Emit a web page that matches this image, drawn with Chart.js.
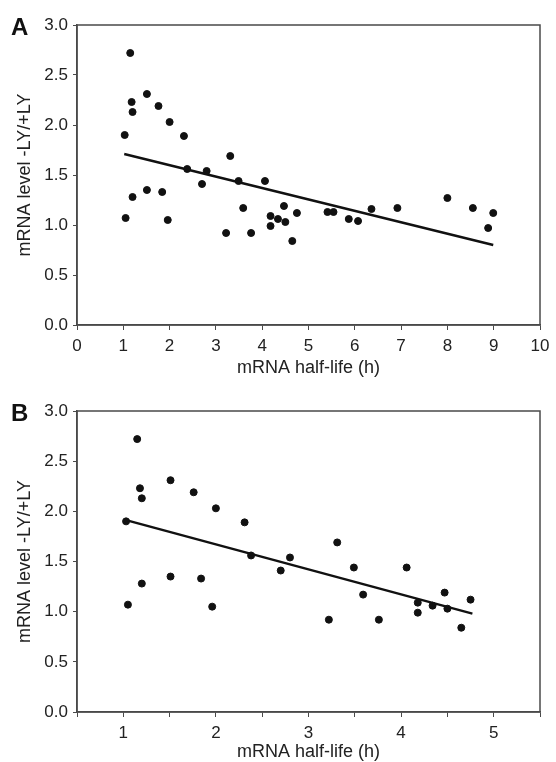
<!DOCTYPE html>
<html>
<head>
<meta charset="utf-8">
<script src="https://cdn.jsdelivr.net/npm/chart.js@4.4.1/dist/chart.umd.min.js"></script>
<style>
  body { margin: 0; background: #fff; }
  #wrap { position: relative; width: 556px; height: 762px; overflow: hidden; }
  canvas { position: absolute; left: 0; }
  .panel { position: absolute; left: 11px; font: bold 24px "Liberation Sans", Arial, sans-serif; line-height: 24px; color: #111; }
</style>
</head>
<body>
<div id="wrap">
  <canvas id="chartA" width="556" height="386" style="top:0"></canvas>
  <canvas id="chartB" width="556" height="380" style="top:386px"></canvas>
  <div class="panel" style="top:15px">A</div>
  <div class="panel" style="top:401px">B</div>
</div>
<script>
// mRNA half-life (h) and mRNA level ratio
const halfLife = [1.15, 1.51, 1.18, 1.76, 1.20, 2.00, 1.03, 2.31, 3.31, 2.38,
  2.80, 3.49, 2.70, 1.51, 1.84, 1.20, 3.59, 1.05, 1.96, 3.22,
  3.76, 4.06, 4.47, 4.18, 4.34, 4.18, 4.50, 4.75, 4.65, 5.41,
  5.54, 5.87, 6.07, 6.36, 6.92, 8.00, 8.55, 8.99, 8.88];
const mrnaLevel = [2.72, 2.31, 2.23, 2.19, 2.13, 2.03, 1.90, 1.89, 1.69, 1.56,
  1.54, 1.44, 1.41, 1.35, 1.33, 1.28, 1.17, 1.07, 1.05, 0.92,
  0.92, 1.44, 1.19, 1.09, 1.06, 0.99, 1.03, 1.12, 0.84, 1.13,
  1.13, 1.06, 1.04, 1.16, 1.17, 1.27, 1.17, 1.12, 0.97];

// regression line end points (panel A: all genes, panel B: half-life < 5 h)
const fitAx = [1.02, 8.99];
const fitAy = [1.71, 0.80];
const fitBx = [1.04, 4.77];
const fitBy = [1.91, 0.98];

const yTicks = [0, 0.5, 1, 1.5, 2, 2.5, 3];

const fontName = "'Liberation Sans', Arial, sans-serif";
const axisColor = "#4a4a4a";
const textColor = "#222";

const allPoints = halfLife.map((x, i) => ({ x: x, y: mrnaLevel[i] }));
const shortPoints = allPoints.filter(p => p.x < 5);

// draws the box around the plot area
const frame = {
  id: "frame",
  afterDraw(chart) {
    const a = chart.chartArea;
    const ctx = chart.ctx;
    ctx.save();
    ctx.strokeStyle = axisColor;
    ctx.lineWidth = 1.5;
    ctx.strokeRect(a.left, a.top, a.right - a.left, a.bottom - a.top);
    ctx.restore();
  },
};

function makeChart(id, points, fx, fy, xOpts, xHeight, titlePad) {
  return new Chart(document.getElementById(id), {
    type: "scatter",
    data: {
      datasets: [
        {
          data: points,
          backgroundColor: "#111",
          borderColor: "#111",
          pointRadius: 3.5,
          pointHoverRadius: 3.5,
        },
        {
          type: "line",
          data: fx.map((x, i) => ({ x: x, y: fy[i] })),
          borderColor: "#111",
          borderWidth: 2.4,
          pointRadius: 0,
          fill: false,
        },
      ],
    },
    options: {
      responsive: false,
      animation: false,
      events: [],
      layout: { padding: { top: 25, right: 16, left: 0, bottom: 0 } },
      plugins: { legend: { display: false }, tooltip: { enabled: false } },
      scales: {
        x: Object.assign({
          type: "linear",
          grid: { drawOnChartArea: false, drawTicks: true, tickLength: 5, color: axisColor },
          border: { display: true, color: axisColor, width: 1.5 },
          title: {
            display: true,
            text: "mRNA half-life (h)",
            color: textColor,
            font: { family: fontName, size: 18 },
            padding: { top: 0, bottom: titlePad },
          },
          afterFit(scale) { scale.height = xHeight; },
        }, xOpts),
        y: {
          min: 0,
          max: 3,
          afterBuildTicks(scale) { scale.ticks = yTicks.map(v => ({ value: v })); },
          ticks: {
            color: textColor,
            padding: 5,
            font: { family: fontName, size: 17 },
            callback: v => v.toFixed(1),
          },
          grid: { drawOnChartArea: false, drawTicks: true, tickLength: 4, color: axisColor },
          border: { display: true, color: axisColor, width: 1.5 },
          title: {
            display: true,
            text: "mRNA level -LY/+LY",
            color: textColor,
            font: { family: fontName, size: 18 },
            padding: { top: 14, bottom: 0 },
          },
          afterFit(scale) { scale.width = 77; },
        },
      },
    },
    plugins: [frame],
  });
}

makeChart("chartA", allPoints, fitAx, fitAy, {
  min: 0,
  max: 10,
  ticks: { stepSize: 1, color: textColor, padding: 6, font: { family: fontName, size: 17 } },
}, 61, 7);

makeChart("chartB", shortPoints, fitBx, fitBy, {
  min: 0.5,
  max: 5.5,
  ticks: {
    stepSize: 0.5,
    color: textColor,
    padding: 6,
    font: { family: fontName, size: 17 },
    callback: v => (Number.isInteger(v) ? v : ""),
  },
}, 54, 3);
</script>
</body>
</html>
